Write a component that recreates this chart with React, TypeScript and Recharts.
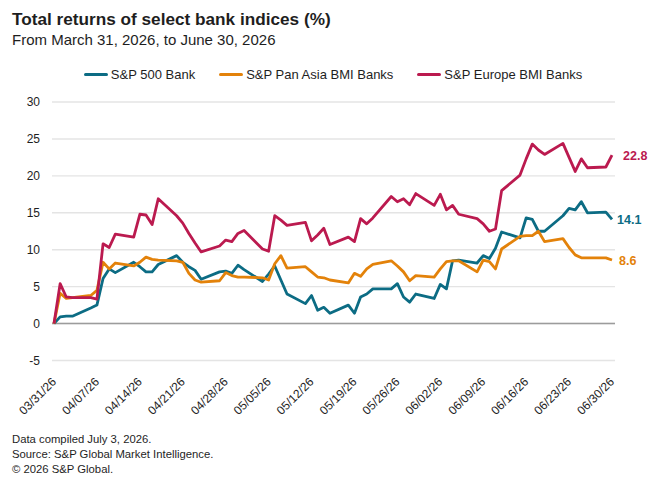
import React from "react";
import {
  LineChart,
  Line,
  XAxis,
  YAxis,
  CartesianGrid,
  ReferenceLine,
  LabelList,
} from "recharts";

// ---------- data ----------
const DATES = [
  "03/31", "04/01", "04/02", "04/03", "04/06", "04/07", "04/08", "04/09", "04/10",
  "04/13", "04/14", "04/15", "04/16", "04/17", "04/20", "04/21", "04/22", "04/23",
  "04/24", "04/27", "04/28", "04/29", "04/30", "05/01", "05/04", "05/05", "05/06",
  "05/07", "05/08", "05/11", "05/12", "05/13", "05/14", "05/15", "05/18", "05/19",
  "05/20", "05/21", "05/22", "05/25", "05/26", "05/27", "05/28", "05/29", "06/01",
  "06/02", "06/03", "06/04", "06/05", "06/08", "06/09", "06/10", "06/11", "06/12",
  "06/15", "06/16", "06/17", "06/18", "06/19", "06/22", "06/23", "06/24", "06/25",
  "06/26", "06/29", "06/30",
];

const SP500_BANK = [
  0, 0.9, 1.0, 1.0, 2.1, 2.5, 6.1, 7.4, 6.9,
  8.3, 7.7, 7.0, 7.0, 8.0, 9.2, 8.3, 7.7, 7.2,
  6.0, 7.0, 7.1, 6.8, 7.9, 7.3, 5.7, 6.7, 7.8,
  5.9, 4.0, 2.7, 3.8, 1.8, 2.2, 1.4, 2.5, 1.4,
  3.6, 4.0, 4.7, 4.7, 5.4, 3.6, 2.9, 4.0, 3.4,
  5.3, 4.7, 8.5, 8.6, 8.2, 9.2, 8.8, 10.2, 12.4,
  11.6, 14.3, 14.1, 12.5, 12.5, 14.6, 15.6, 15.4, 16.5,
  15.0, 15.1, 14.1,
];

const PAN_ASIA_BANKS = [
  0, 4.1, 3.4, 3.5, 3.8, 4.5, 8.3, 7.4, 8.2,
  7.8, 8.3, 9.0, 8.7, 8.6, 8.5, 8.3, 6.8, 5.9,
  5.6, 5.8, 6.9, 6.5, 6.3, 6.3, 6.2, 5.9, 8.1,
  9.2, 7.5, 7.7, 7.0, 6.3, 6.2, 5.9, 5.5, 6.8,
  6.4, 7.4, 8.0, 8.5, 7.8, 7.0, 5.8, 6.5, 6.3,
  7.4, 8.4, 8.5, 8.5, 7.0, 8.6, 8.4, 7.4, 10.1,
  11.8, 11.9, 11.9, 12.5, 11.1, 11.5, 10.3, 9.3, 8.9,
  8.9, 8.9, 8.6,
];

const EUROPE_BANKS = [
  0, 5.4, 3.6, 3.5, 3.5, 3.3, 10.8, 10.3, 12.1,
  11.7, 14.8, 14.7, 13.4, 16.9, 14.6, 13.6, 12.2, 10.9,
  9.7, 10.5, 11.3, 11.1, 12.2, 12.6, 10.1, 9.8, 14.6,
  14.0, 13.3, 13.7, 11.2, 12.0, 12.9, 10.7, 11.7, 11.1,
  14.2, 13.5, 14.3, 17.2, 16.5, 16.9, 16.1, 17.6, 16.0,
  17.5, 15.4, 16.0, 14.8, 14.2, 13.5, 12.5, 12.8, 18.0,
  20.1, 22.3, 24.3, 23.5, 22.9, 24.4, 22.5, 20.6, 22.3,
  21.1, 21.2, 22.8,
];

const TICK_LABELS = [
  "03/31/26", "04/07/26", "04/14/26", "04/21/26", "04/28/26", "05/05/26", "05/12/26",
  "05/19/26", "05/26/26", "06/02/26", "06/09/26", "06/16/26", "06/23/26", "06/30/26",
];

const Y_TICKS = [-5, 0, 5, 10, 15, 20, 25, 30];

const SERIES = [
  { key: "sp500", name: "S&P 500 Bank", color: "#0c6c84", values: SP500_BANK, labelDx: 5 },
  { key: "asia", name: "S&P Pan Asia BMI Banks", color: "#e3820a", values: PAN_ASIA_BANKS, labelDx: 7 },
  { key: "europe", name: "S&P Europe BMI Banks", color: "#bb1a4f", values: EUROPE_BANKS, labelDx: 11 },
];

// ---------- helpers ----------
const BASE = Date.UTC(2026, 2, 31);
const dayOf = (mmdd: string) => {
  const [m, d] = mmdd.split("/").map(Number);
  return Math.round((Date.UTC(2026, m - 1, d) - BASE) / 86400000);
};

const data = DATES.map((dt, i) => ({
  day: dayOf(dt),
  sp500: SP500_BANK[i],
  asia: PAN_ASIA_BANKS[i],
  europe: EUROPE_BANKS[i],
}));

const xTicks = TICK_LABELS.map((l) => dayOf(l.slice(0, 5)));
const labelByDay: Record<number, string> = {};
TICK_LABELS.forEach((l) => {
  labelByDay[dayOf(l.slice(0, 5))] = l;
});

const FONT = "'Liberation Sans', Arial, Helvetica, sans-serif";
const TEXT = "#1e1e1e";

const XTick = (props: any) => {
  const { x, y, payload } = props;
  return (
    <g transform={`translate(${x + 3},${y + 22})`}>
      <text
        x={0}
        y={0}
        textAnchor="end"
        transform="rotate(-45)"
        fontSize={12}
        fontFamily={FONT}
        fill={TEXT}
      >
        {labelByDay[payload.value]}
      </text>
    </g>
  );
};

const makeEndLabel = (color: string, dx: number) => (props: any) => {
  const { x, y, index, value } = props;
  if (index !== data.length - 1) return null;
  return (
    <text
      x={x + dx}
      y={y}
      dy="0.36em"
      fontSize={12.5}
      fontWeight={700}
      fontFamily={FONT}
      fill={color}
    >
      {Number(value).toFixed(1)}
    </text>
  );
};

export default function App() {
  return (
    <div
      style={{
        position: "absolute",
        left: 0,
        top: 0,
        width: 660,
        height: 486,
        background: "#fff",
        fontFamily: FONT,
        color: TEXT,
        overflow: "hidden",
      }}
    >
      <div
        style={{
          position: "absolute",
          left: 12,
          top: 9,
          fontSize: 17.2,
          lineHeight: "20px",
          fontWeight: 700,
          whiteSpace: "nowrap",
        }}
      >
        Total returns of select bank indices (%)
      </div>
      <div
        style={{
          position: "absolute",
          left: 12,
          top: 31,
          fontSize: 15,
          lineHeight: "18px",
          whiteSpace: "nowrap",
        }}
      >
        From March 31, 2026, to June 30, 2026
      </div>

      {/* legend */}
      <div
        style={{
          position: "absolute",
          left: 0,
          top: 66.5,
          width: 666,
          display: "flex",
          justifyContent: "center",
          gap: 24,
          fontSize: 13,
          lineHeight: "16px",
          whiteSpace: "nowrap",
        }}
      >
        {SERIES.map((s) => (
          <div key={s.key} style={{ display: "flex", alignItems: "center" }}>
            <span
              style={{
                display: "inline-block",
                width: 24,
                height: 3,
                background: s.color,
                borderRadius: 1.5,
                marginRight: 3,
              }}
            />
            <span>{s.name}</span>
          </div>
        ))}
      </div>

      <div style={{ position: "absolute", left: 0, top: 0 }}>
        <LineChart
          width={660}
          height={486}
          data={data}
          margin={{ top: 102, right: 45, bottom: 0, left: 0 }}
        >
          <CartesianGrid vertical={false} stroke="#e4e4e4" strokeWidth={1.4} />
          <XAxis
            dataKey="day"
            type="number"
            domain={[0, 91]}
            ticks={xTicks}
            interval={0}
            height={125.5}
            axisLine={false}
            tickLine={false}
            tickSize={0}
            tickMargin={0}
            padding={{ left: 2, right: 3 }}
            tick={<XTick />}
          />
          <YAxis
            type="number"
            domain={[-5, 30]}
            ticks={Y_TICKS}
            interval={0}
            width={52}
            axisLine={false}
            tickLine={false}
            tickSize={0}
            tickMargin={12}
            tick={{ fontSize: 12, fill: TEXT, fontFamily: FONT }}
          />
          <ReferenceLine y={0} stroke="#9c9c9c" strokeWidth={1.4} />
          {SERIES.map((s) => (
            <Line
              key={s.key}
              type="linear"
              dataKey={s.key}
              name={s.name}
              stroke={s.color}
              strokeWidth={2.8}
              dot={false}
              activeDot={false}
              isAnimationActive={false}
              strokeLinejoin="round"
            >
              <LabelList dataKey={s.key} content={makeEndLabel(s.color, s.labelDx)} />
            </Line>
          ))}
        </LineChart>
      </div>

      <div
        style={{
          position: "absolute",
          left: 12,
          top: 431.8,
          fontSize: 11.3,
          lineHeight: "15px",
          whiteSpace: "nowrap",
        }}
      >
        <div>Data compiled July 3, 2026.</div>
        <div>Source: S&amp;P Global Market Intelligence.</div>
        <div>© 2026 S&amp;P Global.</div>
      </div>
    </div>
  );
}
